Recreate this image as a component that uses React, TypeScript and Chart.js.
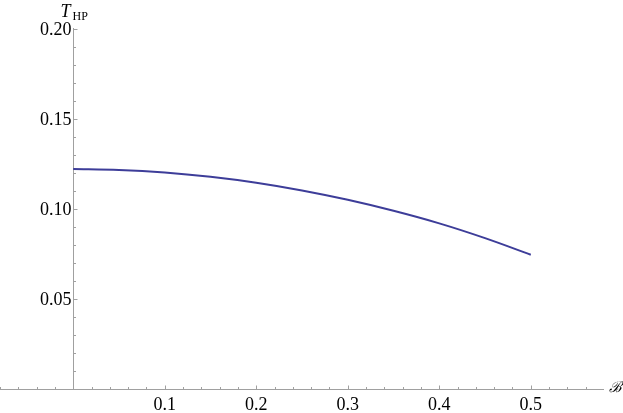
import React, { useEffect, useRef } from "react";
import { Chart, registerables } from "chart.js";

Chart.register(...registerables);

// Data
const bValues = [0, 0.05, 0.1, 0.15, 0.2, 0.25, 0.3, 0.35, 0.4, 0.45, 0.5];
const tValues = [0.1222, 0.1217, 0.1203, 0.1179, 0.1146, 0.1103, 0.1051, 0.099, 0.092, 0.0838, 0.0746];

const xMajorTicks = [0.1, 0.2, 0.3, 0.4, 0.5];
const xTickLabels = ["0.1", "0.2", "0.3", "0.4", "0.5"];
const xMinorTicks = [
  -0.08, -0.06, -0.04, -0.02, 0.02, 0.04, 0.06, 0.08, 0.12, 0.14, 0.16, 0.18, 0.22, 0.24, 0.26, 0.28,
  0.32, 0.34, 0.36, 0.38, 0.42, 0.44, 0.46, 0.48, 0.52, 0.54, 0.56,
];
const yMajorTicks = [0.05, 0.1, 0.15, 0.2];
const yTickLabels = ["0.05", "0.10", "0.15", "0.20"];
const yMinorTicks = [
  0.01, 0.02, 0.03, 0.04, 0.06, 0.07, 0.08, 0.09, 0.11, 0.12, 0.13, 0.14, 0.16, 0.17, 0.18, 0.19,
];

const xLabel = "ℬ";
const yLabelMain = "T";
const yLabelSub = "HP";

const AXIS_COLOR = "#a0a0a0";
const LINE_COLOR = "#3d3d99";
const FONT = "'Liberation Serif'";

const axesPlugin = {
  id: "mathAxes",
  beforeDatasetsDraw(chart: any) {
    const { ctx, chartArea } = chart;
    const xs = chart.scales.x;
    const ys = chart.scales.y;
    const x0 = Math.round(xs.getPixelForValue(0)) + 0.5;
    const y0 = Math.round(ys.getPixelForValue(0)) + 0.5;
    ctx.save();
    ctx.strokeStyle = AXIS_COLOR;
    ctx.lineWidth = 1;
    ctx.beginPath();
    ctx.moveTo(chartArea.left, y0);
    ctx.lineTo(chartArea.right, y0);
    ctx.moveTo(x0, y0);
    ctx.lineTo(x0, Math.round(ys.getPixelForValue(0.2)) - 1);
    xMajorTicks.forEach((v) => {
      const px = Math.round(xs.getPixelForValue(v)) + 0.5;
      ctx.moveTo(px, y0);
      ctx.lineTo(px, y0 - 4);
    });
    xMinorTicks.forEach((v) => {
      const px = Math.round(xs.getPixelForValue(v)) + 0.5;
      ctx.moveTo(px, y0);
      ctx.lineTo(px, y0 - 2.5);
    });
    yMajorTicks.forEach((v) => {
      const py = Math.round(ys.getPixelForValue(v)) + 0.5;
      ctx.moveTo(x0, py);
      ctx.lineTo(x0 + 4, py);
    });
    yMinorTicks.forEach((v) => {
      const py = Math.round(ys.getPixelForValue(v)) + 0.5;
      ctx.moveTo(x0, py);
      ctx.lineTo(x0 + 2.5, py);
    });
    ctx.stroke();

    ctx.fillStyle = "#000";
    ctx.font = `18px ${FONT}`;
    ctx.textAlign = "center";
    ctx.textBaseline = "alphabetic";
    xMajorTicks.forEach((v, i) => {
      ctx.fillText(xTickLabels[i], xs.getPixelForValue(v), y0 + 20);
    });
    ctx.textAlign = "right";
    ctx.textBaseline = "middle";
    yMajorTicks.forEach((v, i) => {
      ctx.fillText(yTickLabels[i], x0 - 2, ys.getPixelForValue(v) + 1);
    });

    ctx.textBaseline = "alphabetic";
    ctx.textAlign = "left";
    ctx.font = `italic 18px ${FONT}`;
    ctx.fillText(yLabelMain, x0 - 13, 17);
    ctx.font = `12px ${FONT}`;
    ctx.fillText(yLabelSub, x0 - 1, 19.5);
    ctx.font = `italic 15px ${FONT}`;
    ctx.fillText(xLabel, chartArea.right + 5, y0 + 2);
    ctx.restore();
  },
};

export default function App() {
  const canvasRef = useRef<HTMLCanvasElement | null>(null);

  useEffect(() => {
    document.body.style.margin = "0";
    const canvas = canvasRef.current;
    if (!canvas) return;
    const chart = new Chart(canvas, {
      type: "line",
      data: {
        datasets: [
          {
            data: bValues.map((b, i) => ({ x: b, y: tValues[i] })),
            borderColor: LINE_COLOR,
            borderWidth: 2,
            pointRadius: 0,
            fill: false,
            cubicInterpolationMode: "monotone",
          },
        ],
      },
      options: {
        animation: false,
        responsive: true,
        maintainAspectRatio: false,
        layout: { padding: { left: 0, right: 19, top: 29, bottom: 24 } },
        plugins: { legend: { display: false }, tooltip: { enabled: false } },
        scales: {
          x: { type: "linear", min: -0.08, max: 0.58, display: false },
          y: { type: "linear", min: 0, max: 0.2, display: false },
        },
      },
      plugins: [axesPlugin],
    });
    return () => chart.destroy();
  }, []);

  return (
    <div style={{ position: "fixed", left: 0, top: 0, width: 623, height: 413, background: "#fff" }}>
      <canvas ref={canvasRef} />
    </div>
  );
}
